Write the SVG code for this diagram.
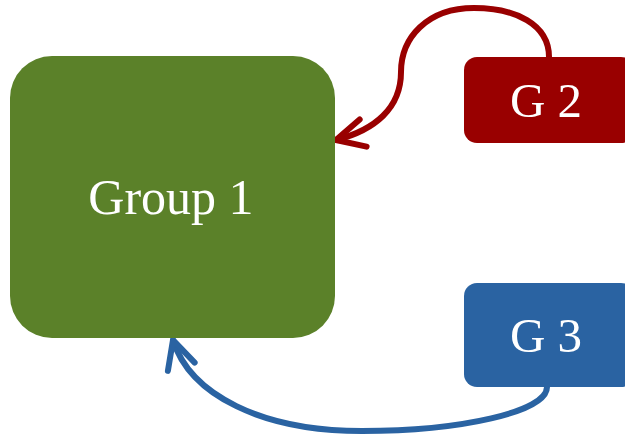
<svg xmlns="http://www.w3.org/2000/svg" width="625" height="435" viewBox="0 0 625 435">
<style>
.lbl{font-family:"Liberation Serif","DejaVu Serif",serif;fill:#ffffff;text-anchor:middle}
.conn{fill:none;stroke-width:6;stroke-linecap:round}
</style>
<defs>
<marker id="arrRed" markerUnits="userSpaceOnUse" markerWidth="50" markerHeight="50" viewBox="-40 -25 50 50" refX="0" refY="0" orient="auto">
<path d="M -28 -14 L 0 0 L -28 14" fill="none" stroke="#990000" stroke-width="6" stroke-linecap="round" stroke-linejoin="round"/>
</marker>
<marker id="arrBlue" markerUnits="userSpaceOnUse" markerWidth="50" markerHeight="50" viewBox="-40 -25 50 50" refX="0" refY="0" orient="auto">
<path d="M -28 -14 L 0 0 L -28 14" fill="none" stroke="#2A63A2" stroke-width="6" stroke-linecap="round" stroke-linejoin="round"/>
</marker>
</defs>
<rect width="625" height="435" fill="#ffffff"/>
<g id="connectors">
<path class="conn" stroke="#990000" d="M 549 57 C 549 24, 515 8, 474 8 C 427 8, 401 38, 401 72 C 401 108, 375 130, 336 140" marker-end="url(#arrRed)"/>
<path class="conn" stroke="#2A63A2" d="M 547 387 C 547 412, 460 431, 362 431 C 262 431, 190 395, 173 340" marker-end="url(#arrBlue)"/>
</g>
<g id="group1">
<rect x="10" y="56" width="325" height="282" rx="42" ry="42" fill="#5B8129"/>
<text class="lbl" x="171" y="214" font-size="50">Group 1</text>
</g>
<g id="g2">
<rect x="464" y="57" width="170" height="86" rx="13" ry="13" fill="#990000"/>
<text class="lbl" x="546" y="117" font-size="49">G 2</text>
</g>
<g id="g3">
<rect x="464" y="283" width="170" height="104" rx="13" ry="13" fill="#2A63A2"/>
<text class="lbl" x="546" y="352" font-size="49">G 3</text>
</g>
</svg>
